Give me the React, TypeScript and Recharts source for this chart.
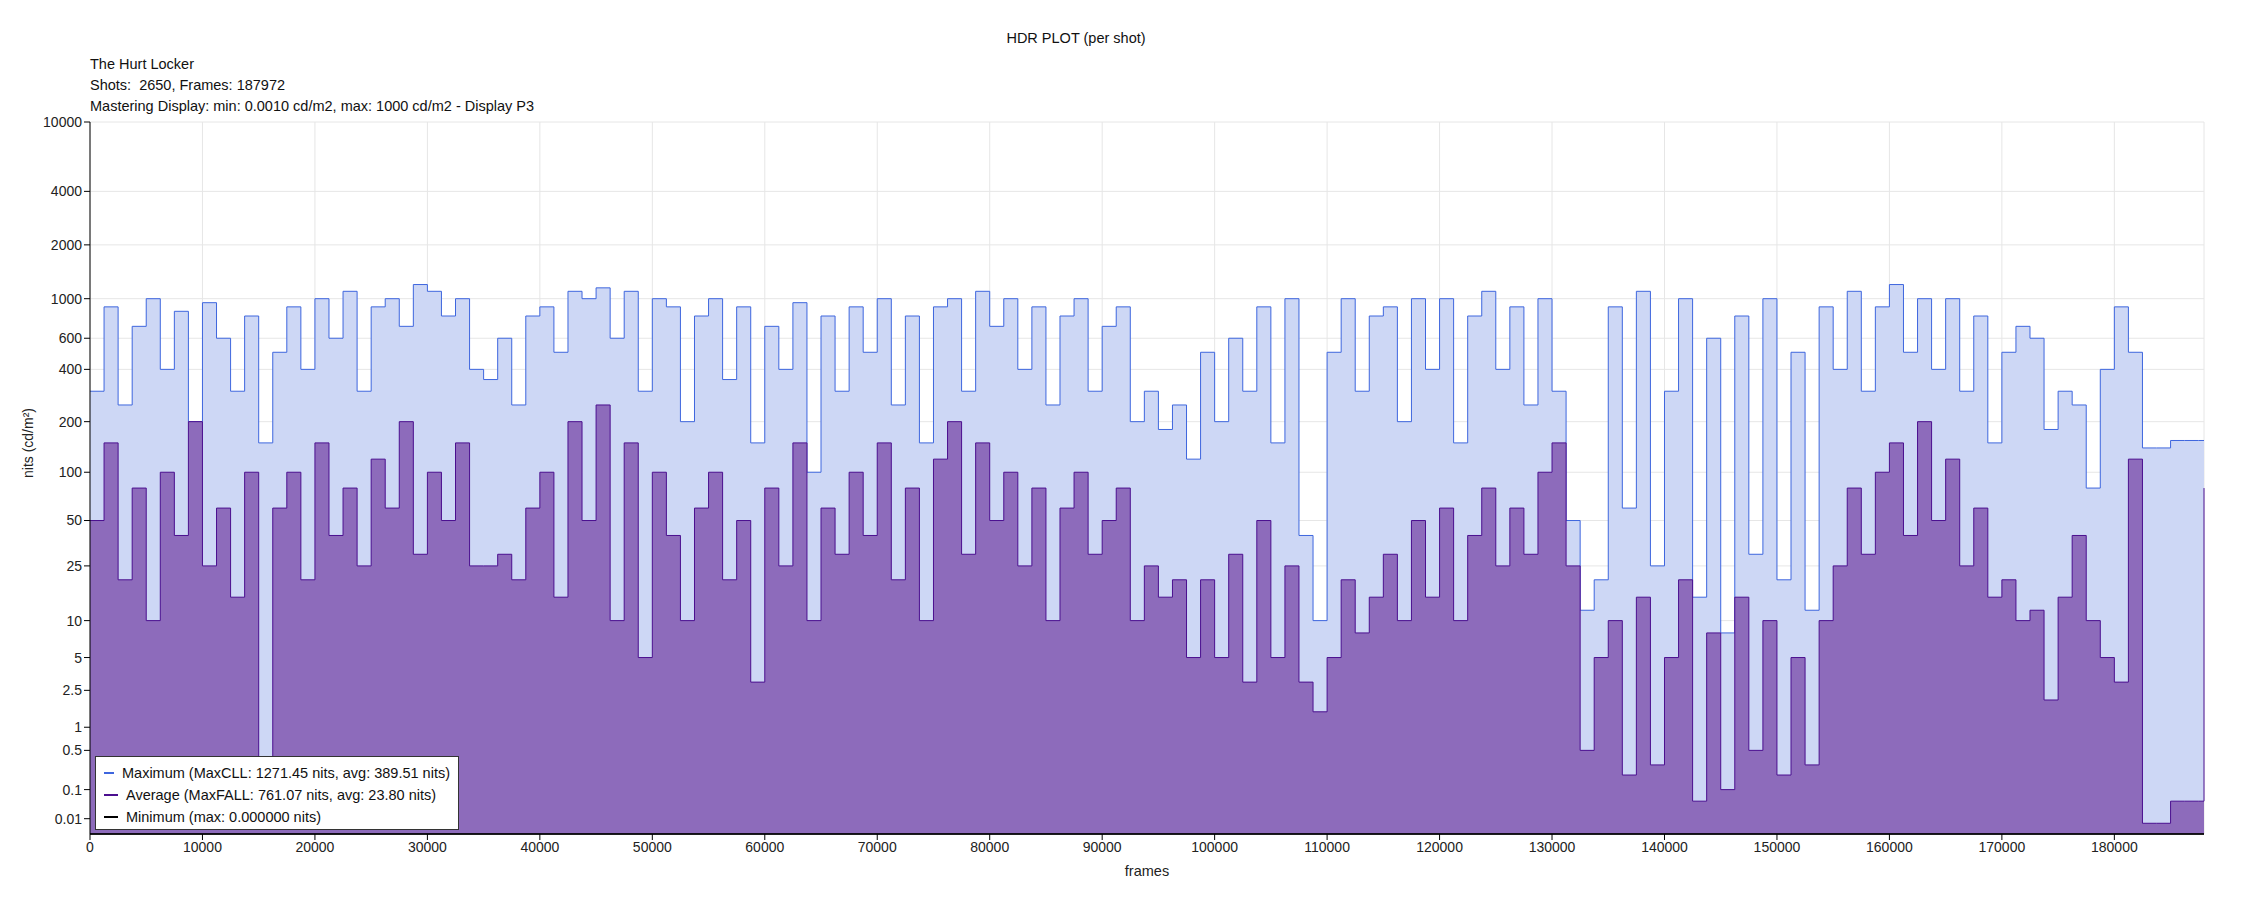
import { ComposedChart, Area, Line, XAxis, YAxis, CartesianGrid } from 'recharts'

const STEP = 1250
const LAST_FRAME = 187972

const maxNits = [
  300, 900, 250, 700, 1000, 400, 850, 200, 950, 600, 300, 800, 150, 500, 900, 400, 1000, 600, 1100, 300,
  900, 1000, 700, 1200, 1100, 800, 1000, 400, 350, 600, 250, 800, 900, 500, 1100, 1000, 1150, 600, 1100, 300,
  1000, 900, 200, 800, 1000, 350, 900, 150, 700, 400, 950, 100, 800, 300, 900, 500, 1000, 250, 800, 150,
  900, 1000, 300, 1100, 700, 1000, 400, 900, 250, 800, 1000, 300, 700, 900, 200, 300, 180, 250, 120, 500,
  200, 600, 300, 900, 150, 1000, 40, 10, 500, 1000, 300, 800, 900, 200, 1000, 400, 1000, 150, 800, 1100,
  400, 900, 250, 1000, 300, 50, 12, 20, 900, 60, 1100, 25, 300, 1000, 15, 600, 8, 800, 30, 1000,
  20, 500, 12, 900, 400, 1100, 300, 900, 1200, 500, 1000, 400, 1000, 300, 800, 150, 500, 700, 600, 180,
  300, 250, 80, 400, 900, 500, 140, 140, 155, 155, 155, 155,
]

const avgNits = [
  50, 150, 20, 80, 10, 100, 40, 200, 25, 60, 15, 100, 0.01, 60, 100, 20, 150, 40, 80, 25,
  120, 60, 200, 30, 100, 50, 150, 25, 25, 30, 20, 60, 100, 15, 200, 50, 250, 10, 150, 5,
  100, 40, 10, 60, 100, 20, 50, 3, 80, 25, 150, 10, 60, 30, 100, 40, 150, 20, 80, 10,
  120, 200, 30, 150, 50, 100, 25, 80, 10, 60, 100, 30, 50, 80, 10, 25, 15, 20, 5, 20,
  5, 30, 3, 50, 5, 25, 3, 1.5, 5, 20, 8, 15, 30, 10, 50, 15, 60, 10, 40, 80,
  25, 60, 30, 100, 150, 25, 0.5, 5, 10, 0.2, 15, 0.3, 5, 20, 0.05, 8, 0.1, 15, 0.5, 10,
  0.2, 5, 0.3, 10, 25, 80, 30, 100, 150, 40, 200, 50, 120, 25, 60, 15, 20, 10, 12, 2,
  15, 40, 10, 5, 3, 120, 0.005, 0.005, 0.05, 0.05, 0.05, 80,
]

const yTicks = [0.01, 0.1, 0.5, 1, 2.5, 5, 10, 25, 50, 100, 200, 400, 600, 1000, 2000, 4000, 10000]
const xTicks = [0, 10000, 20000, 30000, 40000, 50000, 60000, 70000, 80000, 90000, 100000, 110000, 120000, 130000, 140000, 150000, 160000, 170000, 180000]

// SMPTE ST 2084 (PQ) encoding, used as the y scale
function pq(nits: number) {
  const m1 = 0.1593017578125
  const m2 = 78.84375
  const c1 = 0.8359375
  const c2 = 18.8515625
  const c3 = 18.6875
  const y = Math.pow(Math.max(nits, 0) / 10000, m1)
  return Math.pow((c1 + c2 * y) / (1 + c3 * y), m2)
}

const data = maxNits.map((m, i) => ({
  frame: i === maxNits.length - 1 ? LAST_FRAME : i * STEP,
  max: pq(m),
  avg: pq(avgNits[i]),
  min: pq(0),
}))

const tickLabels = new Map(yTicks.map((t) => [pq(t).toFixed(6), String(t)]))

const font = '"Liberation Sans", Arial, sans-serif'

export default function App() {
  return (
    <div style={{ position: 'absolute', left: 0, top: 0, width: 2250, height: 900, fontFamily: font, color: '#111' }}>
      <div style={{ position: 'absolute', left: 0, width: 2152, top: 30, textAlign: 'center', fontSize: 14.5 }}>HDR PLOT (per shot)</div>
      <div style={{ position: 'absolute', left: 90, top: 54, fontSize: 14.5, lineHeight: '21px' }}>
        <div>The Hurt Locker</div>
        <div>Shots:&nbsp; 2650, Frames: 187972</div>
        <div>Mastering Display: min: 0.0010 cd/m2, max: 1000 cd/m2 - Display P3</div>
      </div>
      <ComposedChart width={2250} height={900} data={data} margin={{ top: 122, right: 46, bottom: 36, left: 30 }}>
        <CartesianGrid stroke="#e6e6e6" />
        <XAxis
          dataKey="frame"
          type="number"
          domain={[0, LAST_FRAME]}
          ticks={xTicks}
          tick={{ fill: '#222', fontSize: 14, fontFamily: font }}
          stroke="#000"
          height={30}
          label={{ value: 'frames', position: 'insideBottom', offset: -12, fill: '#222', fontSize: 14.5, fontFamily: font }}
        />
        <YAxis
          type="number"
          domain={[0, 1]}
          ticks={yTicks.map(pq)}
          tickFormatter={(v: number) => tickLabels.get(v.toFixed(6)) ?? ''}
          tick={{ fill: '#222', fontSize: 14, fontFamily: font }}
          stroke="#000"
          width={60}
          label={{ value: 'nits (cd/m²)', angle: -90, position: 'insideLeft', offset: -2, fill: '#222', fontSize: 14, fontFamily: font }}
        />
        <Area type="stepAfter" dataKey="max" stroke="#3e66de" strokeWidth={1} fill="#cdd7f5" fillOpacity={1} isAnimationActive={false} />
        <Area type="stepAfter" dataKey="avg" stroke="#4b0f8f" strokeWidth={1} fill="#8d6bbb" fillOpacity={1} isAnimationActive={false} />
        <Line type="stepAfter" dataKey="min" stroke="#000" strokeWidth={1.5} dot={false} isAnimationActive={false} />
      </ComposedChart>
      <div
        style={{
          position: 'absolute', left: 95, top: 756, width: 364, height: 74, background: '#fff',
          border: '1px solid #333', fontSize: 14.5, boxSizing: 'border-box', padding: '5px 8px', lineHeight: '22px',
        }}
      >
        {[
          ['#3e66de', 'Maximum (MaxCLL: 1271.45 nits, avg: 389.51 nits)'],
          ['#4b0f8f', 'Average (MaxFALL: 761.07 nits, avg: 23.80 nits)'],
          ['#000', 'Minimum (max: 0.000000 nits)'],
        ].map(([c, t]) => (
          <div key={t} style={{ display: 'flex', alignItems: 'center', whiteSpace: 'nowrap' }}>
            <span style={{ display: 'inline-block', width: 14, height: 2, background: c, marginRight: 8 }} />
            {t}
          </div>
        ))}
      </div>
    </div>
  )
}
